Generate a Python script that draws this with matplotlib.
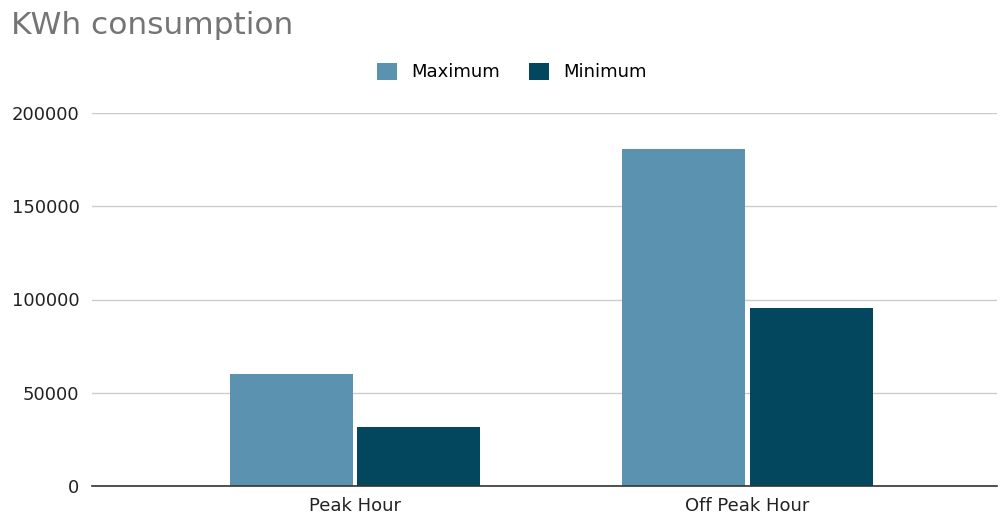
import matplotlib
matplotlib.use("Agg")
import matplotlib.pyplot as plt
import numpy as np

plt.rcParams['font.family'] = ['DejaVu Sans']

categories = ["Peak Hour", "Off Peak Hour"]
maximum = [60000, 180500]
minimum = [31500, 95500]
series_names = ["Maximum", "Minimum"]
colors = ["#5a92af", "#03475f"]

fig = plt.figure(figsize=(10, 5.16), dpi=100)
ax = fig.add_axes([0.092, 30/516, 0.905, 373/516])

x = np.arange(len(categories))
w = 0.313
gap = 0.006
ax.bar(x - w/2 - gap, maximum, width=w, color=colors[0], label=series_names[0], zorder=3)
ax.bar(x + w/2 + gap, minimum, width=w, color=colors[1], label=series_names[1], zorder=3)

ax.set_xlim(-0.67, 1.636)
ax.set_ylim(0, 200000)
ax.set_yticks([0, 50000, 100000, 150000, 200000])
ax.set_yticklabels(["0", "50000", "100000", "150000", "200000"])
ax.set_xticks(x)
ax.set_xticklabels(categories)
ax.tick_params(axis='both', length=0, labelsize=13, colors="#222222")
ax.tick_params(axis='y', pad=9)
ax.tick_params(axis='x', pad=8)
ax.grid(axis='y', color="#cccccc", linewidth=1, zorder=0)
for s in ["top", "right", "left"]:
    ax.spines[s].set_visible(False)
ax.spines["bottom"].set_color("#333333")
ax.spines["bottom"].set_linewidth(1.2)
ax.spines["bottom"].set_zorder(4)

fig.text(0.011, 0.950, "KWh consumption", fontsize=22.5, color="#757575", va="center", ha="left")
ax.legend(loc="center", bbox_to_anchor=((512 - 92) / 905, (516 - 72 - 30) / 373),
          ncol=2, frameon=False, fontsize=13, handlelength=1.1, handleheight=1.1,
          columnspacing=1.6, handletextpad=0.8)

fig.savefig("out.png", dpi=100)
